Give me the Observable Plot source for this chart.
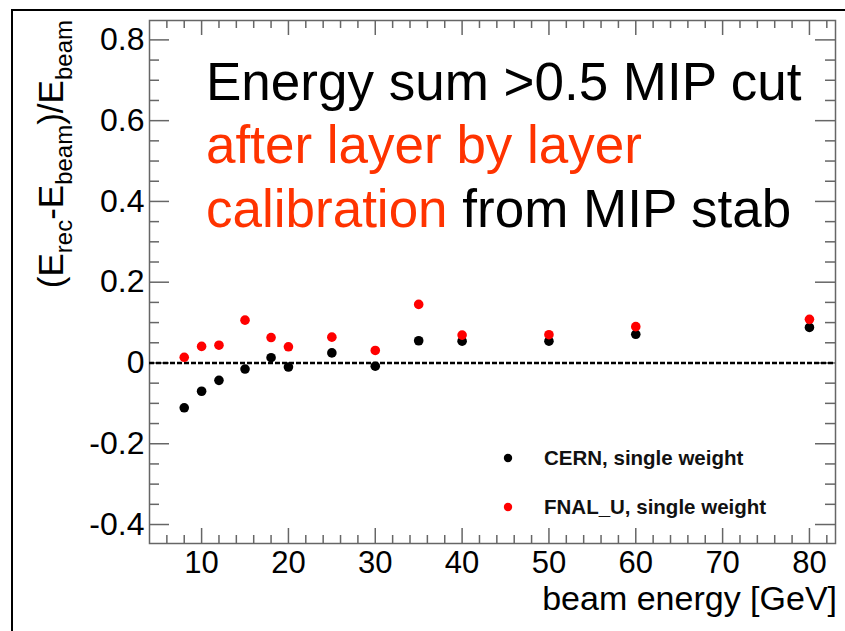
<!DOCTYPE html>
<html>
<head>
<meta charset="utf-8">
<script src="https://cdn.jsdelivr.net/npm/d3@7"></script>
<script src="https://cdn.jsdelivr.net/npm/@observablehq/plot@0.6"></script>
<style>
  body { margin: 0; background: #fff; }
  #wrap { position: relative; width: 845px; height: 631px; overflow: hidden; }
  #border { position: absolute; left: 11px; top: 9px; right: -4px; bottom: -4px;
            border-top: 2px solid #000; border-left: 2px solid #000; pointer-events: none; }
</style>
</head>
<body>
<div id="wrap"><div id="border"></div></div>
<script>
// Beam energies (GeV) and relative energy residuals (E_rec - E_beam)/E_beam
const energies   = [8, 10, 12, 15, 18, 20, 25, 30, 35, 40, 50, 60, 80];
const cernSingle = [-0.111, -0.070, -0.043, -0.015, 0.013, -0.010, 0.025, -0.008, 0.055, 0.054, 0.054, 0.071, 0.088];
const fnalSingle = [0.014, 0.041, 0.044, 0.106, 0.063, 0.040, 0.064, 0.031, 0.145, 0.069, 0.070, 0.090, 0.108];

const seriesNames  = ["CERN, single weight", "FNAL_U, single weight"];
const seriesColors = ["#000000", "#ff0000"];

// Axis ticks
const xMajor = [10, 20, 30, 40, 50, 60, 70, 80];
const xMinor = [6, 8, 12, 14, 16, 18, 22, 24, 26, 28, 32, 34, 36, 38, 42, 44, 46, 48,
                52, 54, 56, 58, 62, 64, 66, 68, 72, 74, 76, 78, 82];
const yMajor = [-0.4, -0.2, 0, 0.2, 0.4, 0.6, 0.8];
const yMinor = [-0.35, -0.3, -0.25, -0.15, -0.1, -0.05, 0.05, 0.1, 0.15, 0.25, 0.3, 0.35,
                0.45, 0.5, 0.55, 0.65, 0.7, 0.75];

// Annotation text
const titleLines = [
  [{text: "Energy sum >0.5 MIP cut", color: "#000"}],
  [{text: "after layer by layer", color: "#ff3300"}],
  [{text: "calibration", color: "#ff3300"}, {text: " from MIP stab", color: "#000"}]
];

const W = 845, H = 631;
const mL = 149, mR = 10, mT = 20, mB = 88;
const frameW = W - mL - mR, frameH = H - mT - mB;
const tickColor = "#666";
const font = "'Liberation Sans', Arial, Helvetica, sans-serif";

const cern = energies.map((e, i) => ({e, v: cernSingle[i]}));
const fnal = energies.map((e, i) => ({e, v: fnalSingle[i]}));
const fmt = d => d === 0 ? "0" : String(d);

const chart = Plot.plot({
  width: W, height: H,
  marginLeft: mL, marginRight: mR, marginTop: mT, marginBottom: mB,
  style: {fontFamily: font, background: "transparent", color: "#000", overflow: "visible"},
  x: {domain: [4, 83]},
  y: {domain: [-0.447, 0.848]},
  marks: [
    // inward ticks on all four sides
    Plot.tickY(yMajor, {y: d => d, insetRight: frameW - 20, stroke: tickColor, strokeWidth: 1.5}),
    Plot.tickY(yMajor, {y: d => d, insetLeft: frameW - 20, stroke: tickColor, strokeWidth: 1.5}),
    Plot.tickY(yMinor, {y: d => d, insetRight: frameW - 10, stroke: tickColor, strokeWidth: 1.5}),
    Plot.tickY(yMinor, {y: d => d, insetLeft: frameW - 10, stroke: tickColor, strokeWidth: 1.5}),
    Plot.tickX(xMajor, {x: d => d, insetTop: frameH - 15, stroke: tickColor, strokeWidth: 1.5}),
    Plot.tickX(xMajor, {x: d => d, insetBottom: frameH - 15, stroke: tickColor, strokeWidth: 1.5}),
    Plot.tickX(xMinor, {x: d => d, insetTop: frameH - 8, stroke: tickColor, strokeWidth: 1.5}),
    Plot.tickX(xMinor, {x: d => d, insetBottom: frameH - 8, stroke: tickColor, strokeWidth: 1.5}),
    Plot.frame({stroke: tickColor, strokeWidth: 1.5}),
    Plot.axisY({ticks: yMajor, tickSize: 0, tickPadding: 5, fontSize: 32, tickFormat: fmt, label: null}),
    Plot.axisX({ticks: xMajor, tickSize: 0, tickPadding: 7, fontSize: 31, label: null}),
    Plot.ruleY([0], {stroke: "#000", strokeWidth: 2.5, strokeDasharray: "5,2"}),
    Plot.dot(cern, {x: "e", y: "v", r: 4.8, fill: seriesColors[0], stroke: null}),
    Plot.dot(fnal, {x: "e", y: "v", r: 4.8, fill: seriesColors[1], stroke: null})
  ]
});
document.getElementById("wrap").prepend(chart);

const svg = d3.select(chart);
const g = svg.append("g")
  .attr("font-family", font).attr("fill", "#000").attr("text-anchor", "start");

// x-axis title, right-aligned to the frame
g.append("text")
  .attr("x", W - mR + 2).attr("y", 610)
  .attr("text-anchor", "end").attr("font-size", 34)
  .text("beam energy [GeV]");

// y-axis title with subscripts, rotated and aligned to the top of the frame
const yt = g.append("text")
  .attr("transform", `translate(63,${mT}) rotate(-90)`)
  .attr("text-anchor", "end").attr("font-size", 35);
const parts = [["(E", 0], ["rec", 1], ["-E", 0], ["beam", 1], [")/E", 0], ["beam", 1]];
let shifted = false;
for (const [s, sub] of parts) {
  const ts = yt.append("tspan").text(s);
  if (sub) { ts.attr("font-size", 24).attr("dy", shifted ? 0 : 9); shifted = true; }
  else { if (shifted) ts.attr("dy", -9); shifted = false; }
}

// title block
const baselines = [100, 163, 227];
titleLines.forEach((line, i) => {
  const t = g.append("text").attr("x", 206).attr("y", baselines[i])
    .attr("text-anchor", "start").attr("font-size", 53);
  line.forEach(p => t.append("tspan").attr("fill", p.color).text(p.text));
});

// legend
const legendRows = [458, 507];
seriesNames.forEach((name, i) => {
  g.append("circle").attr("cx", 508).attr("cy", legendRows[i]).attr("r", 4.2).attr("fill", seriesColors[i]);
  g.append("text").attr("x", 544).attr("y", legendRows[i] + 7)
    .attr("text-anchor", "start")
    .attr("font-size", 20.5).attr("font-weight", "bold").attr("fill", "#111").text(name);
});
</script>
</body>
</html>
